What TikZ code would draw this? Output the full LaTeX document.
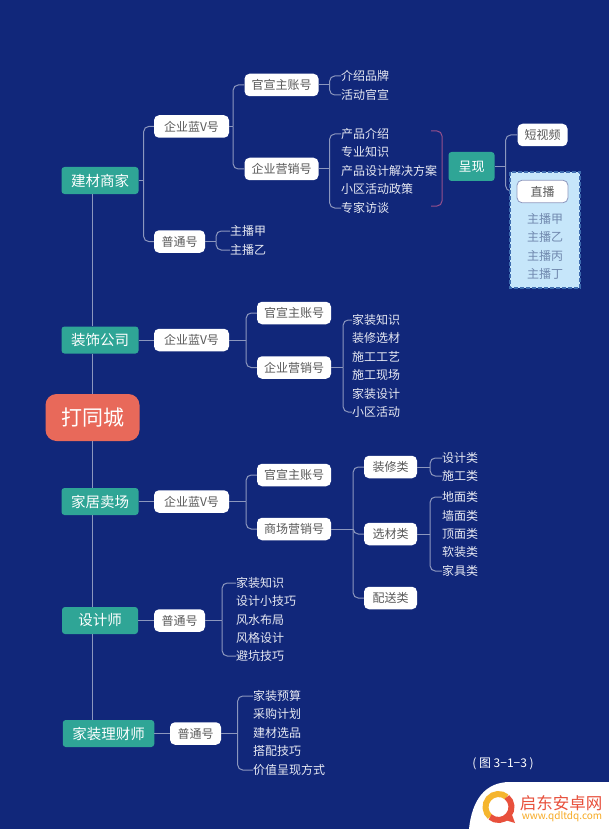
\documentclass[tikz,border=0pt]{standalone}
\usepackage{fontspec}
\setmainfont{Noto Sans CJK SC}
\usetikzlibrary{positioning,calc}
\definecolor{bgblue}{HTML}{11277A}
\definecolor{topicteal}{HTML}{2FA596}
\definecolor{rootred}{HTML}{E8695A}
\definecolor{linegrey}{HTML}{8C97BE}
\definecolor{boxblue}{HTML}{C6E6FA}
\definecolor{boxedge}{HTML}{3F6DB0}
\definecolor{dimtext}{HTML}{7088AE}
\definecolor{bracketpurple}{HTML}{96508C}
\definecolor{logored}{HTML}{E8503C}
\definecolor{logoyellow}{HTML}{F5B52E}
\tikzset{
    conn/.style={draw=linegrey, line width=1pt, rounded corners=5pt},
    root/.style={fill=rootred, text=white, rounded corners=11pt, minimum width=94pt, minimum height=47pt, font=\fontsize{21}{24}\selectfont},
    topic/.style={fill=topicteal, text=white, rounded corners=3pt, minimum height=27pt, inner xsep=9.5pt, font=\fontsize{14.5}{17}\selectfont},
    subbox/.style={fill=white, text=black!65, rounded corners=5pt, minimum height=22.5pt, inner xsep=7pt, inner ysep=0pt, font=\fontsize{12}{14}\selectfont},
    bluebox/.style={subbox, minimum width=75pt},
    leaf/.style={text=white!90!bgblue, anchor=west, inner xsep=0pt, inner ysep=1pt, font=\fontsize{12}{14}\selectfont},
    dimleaf/.style={leaf, text=dimtext},
}
\begin{document}
\begin{tikzpicture}[x=1pt, y=-1pt]
    \fill[bgblue] (0,0) rectangle (609,829);
    \useasboundingbox (0,0) rectangle (609,829);

    \node[root] (tongcheng) at (92.5,417.5) {打同城};
    \node[topic] (jiancai) at (100,180.5) {建材商家};
    \node[topic] (zhuangshi) at (100,340) {装饰公司};
    \node[topic] (maichang) at (100,501.5) {家居卖场};
    \node[topic, minimum width=76pt] (shejishi) at (100,620.5) {设计师};
    \node[topic] (licai) at (108.5,733.5) {家装理财师};
    \foreach \a/\b in {jiancai.south/zhuangshi.north, zhuangshi.south/tongcheng.north, tongcheng.south/maichang.north, maichang.south/shejishi.north, shejishi.south/licai.north}
        \draw[conn] (tongcheng.north |- \a) -- (tongcheng.north |- \b);

    % jiancai
    \node[bluebox] (jcblue) at (191.5,126.5) {企业蓝V号};
    \node[subbox, minimum width=51pt] (jcputong) at (179.5,241.5) {普通号};
    \node[subbox] (jcguan) at (281.5,85) {官宣主账号};
    \node[subbox] (jcying) at (281.5,169) {企业营销号};
    \node[topic, font=\fontsize{13}{15}\selectfont, minimum height=29pt, inner xsep=10pt] (chengxian) at (471.5,166.5) {呈现};
    \node[subbox] (duanshipin) at (542.5,135) {短视频};
    \foreach \name/\y/\txt in {pp/76/介绍品牌, hd/95/活动官宣} \node[leaf] (\name) at (341,\y) {\txt};
    \foreach \name/\y/\txt in {jsa/134/产品介绍, jsb/152/专业知识, jsc/171/产品设计解决方案, jsd/189/小区活动政策, jse/208/专家访谈} \node[leaf] (\name) at (341,\y) {\txt};
    \foreach \name/\y/\txt in {zbjia/231/主播甲, zbyi/250/主播乙} \node[leaf] (\name) at (230,\y) {\txt};

    \draw[conn] (jiancai.east) -- ++(5,0) coordinate (j1);
    \foreach \t in {jcblue,jcputong} \draw[conn] (j1) |- (\t.west);
    \draw[conn] (jcblue.east) -- ++(4,0) coordinate (j2);
    \foreach \t in {jcguan,jcying} \draw[conn] (j2) |- (\t.west);
    \draw[conn] (jcguan.east) -- ++(11,0) coordinate (j3);
    \foreach \t in {pp,hd} \draw[conn] (j3) |- (\t.west);
    \draw[conn] (jcying.east) -- ++(11,0) coordinate (j4);
    \foreach \t in {jsa,jse} \draw[conn] (j4) |- (\t.west);
    \draw[conn] (jcputong.east) -- ++(11,0) coordinate (j5);
    \foreach \t in {zbjia,zbyi} \draw[conn] (j5) |- (\t.west);
    \draw[draw=bracketpurple, line width=1pt, rounded corners=5pt] (431,131) -- (442,131) -- (442,206) -- (431,206);
    \draw[conn] (chengxian.east) -- ++(11,0) coordinate (j6);
    \draw[conn] (j6) |- (duanshipin.west);

    % zhibo box
    \draw[conn] (j6) |- (517,191);
    \draw[draw=boxedge, fill=boxblue, dash pattern=on 4pt off 2pt, line width=1.3pt] (510,172) rectangle (580,288);
    \node[subbox, draw=linegrey, line width=0.8pt, minimum width=51pt] (zhibo) at (542.5,191.5) {直播};
    \foreach \name/\y/\txt in {boxa/219/主播甲, boxb/237/主播乙, boxc/256/主播丙, boxd/274/主播丁} \node[dimleaf] (\name) at (527,\y) {\txt};

    % zhuangshi
    \node[bluebox] (zsblue) at (191.5,340) {企业蓝V号};
    \node[subbox] (zsguan) at (294,313) {官宣主账号};
    \node[subbox] (zsying) at (294,367.5) {企业营销号};
    \foreach \name/\y/\txt in {zsa/320/家装知识, zsb/338/装修选材, zsc/357/施工工艺, zsd/375/施工现场, zse/394/家装设计, zsf/412/小区活动} \node[leaf] (\name) at (352,\y) {\txt};
    \draw[conn] (zhuangshi.east) -- (zsblue.west);
    \draw[conn] (zsblue.east) -- ++(17,0) coordinate (j7);
    \foreach \t in {zsguan,zsying} \draw[conn] (j7) |- (\t.west);
    \draw[conn] (zsying.east) -- ++(12,0) coordinate (j8);
    \foreach \t in {zsa,zsf} \draw[conn] (j8) |- (\t.west);

    % maichang
    \node[bluebox] (mcblue) at (191.5,501.5) {企业蓝V号};
    \node[subbox] (mcguan) at (294,475) {官宣主账号};
    \node[subbox] (mcying) at (294,529) {商场营销号};
    \node[subbox, minimum width=53pt] (zxl) at (390.5,467) {装修类};
    \node[subbox, minimum width=53pt] (xcl) at (390.5,534) {选材类};
    \node[subbox, minimum width=53pt] (psl) at (390.5,598) {配送类};
    \foreach \name/\y/\txt in {sjl/458/设计类, sgl/476/施工类, dml/497/地面类, qml/516/墙面类, dgl/534/顶面类, rzl/552/软装类, jjl/571/家具类} \node[leaf] (\name) at (442,\y) {\txt};
    \draw[conn] (maichang.east) -- (mcblue.west);
    \draw[conn] (mcblue.east) -- ++(17,0) coordinate (j9);
    \foreach \t in {mcguan,mcying} \draw[conn] (j9) |- (\t.west);
    \draw[conn] (mcying.east) -- ++(22,0) coordinate (j10);
    \foreach \t in {zxl,xcl,psl} \draw[conn] (j10) |- (\t.west);
    \draw[conn] (zxl.east) -- ++(13,0) coordinate (j11);
    \foreach \t in {sjl,sgl} \draw[conn] (j11) |- (\t.west);
    \draw[conn] (xcl.east) -- ++(13,0) coordinate (j12);
    \foreach \t in {dml,jjl} \draw[conn] (j12) |- (\t.west);

    % shejishi
    \node[subbox, minimum width=51pt] (sjputong) at (179.5,620.5) {普通号};
    \foreach \name/\y/\txt in {sja/583/家装知识, sjb/601/设计小技巧, sjc/620/风水布局, sjd/638/风格设计, sje/656/避坑技巧} \node[leaf] (\name) at (236,\y) {\txt};
    \draw[conn] (shejishi.east) -- (sjputong.west);
    \draw[conn] (sjputong.east) -- ++(17,0) coordinate (j13);
    \foreach \t in {sja,sje} \draw[conn] (j13) |- (\t.west);

    % licai
    \node[subbox, minimum width=51pt] (lcputong) at (195.5,733.5) {普通号};
    \foreach \name/\y/\txt in {lca/696/家装预算, lcb/714/采购计划, lcc/733/建材选品, lcd/751/搭配技巧, lce/770/价值呈现方式} \node[leaf] (\name) at (253,\y) {\txt};
    \draw[conn] (licai.east) -- (lcputong.west);
    \draw[conn] (lcputong.east) -- ++(16.5,0) coordinate (j14);
    \foreach \t in {lca,lce} \draw[conn] (j14) |- (\t.west);

    \node[text=white, font=\fontsize{12}{14}\selectfont] (caption) at (503,764) {( 图 3−1−3 )};

    % watermark
    \fill[white] (469,829) .. controls (472,800) and (485,782) .. (510,782) -- (609,782) -- (609,829) -- cycle;
    \draw[logoyellow, line width=6pt] (498.5,807) ++(50:13pt) arc[start angle=50, end angle=230, radius=13pt];
    \draw[logored, line width=6pt] (498.5,807) ++(230:13pt) arc[start angle=230, end angle=410, radius=13pt];
    \fill[logored] (505,820) -- (515,823) -- (511,812) -- cycle;
    \node[text=logored, font=\fontsize{16.5}{18}\selectfont] (wmname) at (561,803.5) {启东安卓网};
    \node[text=logoyellow!80!orange, font=\fontsize{10}{12}\selectfont] (wmurl) at (562,817) {www.qdltdq.com};
\end{tikzpicture}
\end{document}
